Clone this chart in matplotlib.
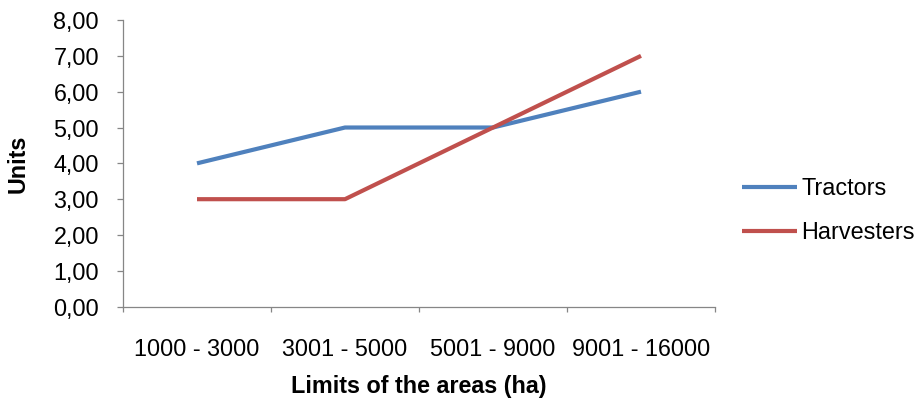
import matplotlib
matplotlib.use('Agg')
import matplotlib.pyplot as plt
from matplotlib.ticker import FixedLocator, FuncFormatter, MultipleLocator

# data
categories = ['1000 - 3000', '3001 - 5000', '5001 - 9000', '9001 - 16000']
tractors = [4, 5, 5, 6]
harvesters = [3, 3, 5, 7]

plt.rcParams['font.family'] = ['Liberation Sans', 'DejaVu Sans']
FS = 16.8
AXIS_GREY = '#868686'

fig = plt.figure(figsize=(9.2, 4.03), dpi=100)
ax = fig.add_axes([123 / 920, 1 - 306.7 / 403, (715 - 123) / 920, (306.7 - 20) / 403])

x = list(range(len(categories)))
ax.plot(x, tractors, color='#4F81BD', linewidth=3.0, label='Tractors', solid_capstyle='butt')
ax.plot(x, harvesters, color='#C0504D', linewidth=3.0, label='Harvesters', solid_capstyle='butt')

ax.set_xlim(-0.5, len(categories) - 0.5)
ax.set_ylim(0, 8)

# category boundaries as major ticks, labels at centres as minor ticks
ax.xaxis.set_major_locator(FixedLocator([i - 0.5 for i in range(len(categories) + 1)]))
ax.xaxis.set_major_formatter(FuncFormatter(lambda v, p: ''))
ax.xaxis.set_minor_locator(FixedLocator(x))
ax.set_xticklabels(categories, minor=True)
ax.tick_params(axis='x', which='major', direction='out', length=3.6, width=0.9, color=AXIS_GREY)
ax.tick_params(axis='x', which='minor', length=0, pad=22.8, labelsize=FS)

ax.yaxis.set_major_locator(MultipleLocator(1))
ax.yaxis.set_major_formatter(FuncFormatter(lambda v, p: f'{v:.2f}'.replace('.', ',')))
ax.tick_params(axis='y', direction='out', length=4.3, width=0.9, color=AXIS_GREY, pad=13, labelsize=FS)

for side in ['top', 'right']:
    ax.spines[side].set_visible(False)
for side in ['left', 'bottom']:
    ax.spines[side].set_color(AXIS_GREY)
    ax.spines[side].set_linewidth(0.9)

ax.set_xlabel('Limits of the areas (ha)', fontsize=FS, fontweight='bold', va='center')
ax.xaxis.set_label_coords(0.5, (306.7 - 386) / 286.7)
ax.set_ylabel('Units', fontsize=FS, fontweight='bold', va='center')
ax.yaxis.set_label_coords((18 - 123) / 592, 0.5)

fig.legend(loc='center left', bbox_to_anchor=(742 / 920, 1 - 210.5 / 403),
           frameon=False, fontsize=FS, handlelength=2.35, handletextpad=0.2,
           labelspacing=0.88, borderpad=0, borderaxespad=0)

fig.savefig('out.png', dpi=100, facecolor='white')
